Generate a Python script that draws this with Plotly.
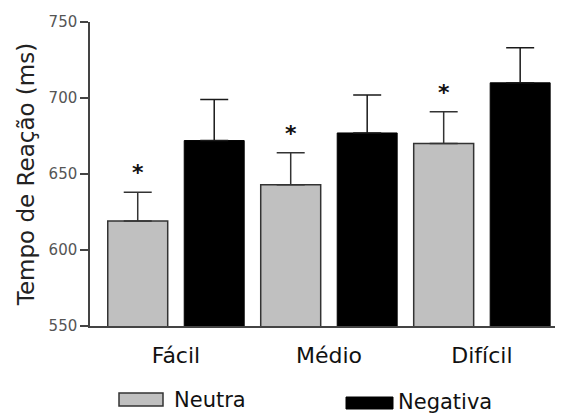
import plotly.graph_objects as go

categories = ["Fácil", "Médio", "Difícil"]
neutra = [619, 643, 670]
neutra_err = [19, 21, 21]
negativa = [672, 677, 710]
negativa_err = [27, 25, 23]
significant = [True, True, True]
y_ticks = [550, 600, 650, 700, 750]

FONT = "DejaVu Sans, Liberation Sans, Arial, sans-serif"

fig = go.Figure()
fig.add_trace(go.Bar(
    x=categories, y=neutra, name="Neutra",
    marker=dict(color="#c0c0c0", line=dict(color="#333333", width=1.5)),
    error_y=dict(type="data", array=neutra_err, arrayminus=[0]*3, symmetric=False,
                 color="#333333", thickness=1.5, width=14),
))
fig.add_trace(go.Bar(
    x=categories, y=negativa, name="Negativa",
    marker=dict(color="#000000", line=dict(color="#000000", width=1)),
    error_y=dict(type="data", array=negativa_err, arrayminus=[0]*3, symmetric=False,
                 color="#1a1a1a", thickness=1.5, width=14),
))

annotations = []
for c, v, e, s in zip(categories, neutra, neutra_err, significant):
    if s:
        annotations.append(dict(x=c, y=v + e, xref="x", yref="y", text="<b>*</b>",
                                showarrow=False, xshift=-38, yshift=5, yanchor="bottom",
                                font=dict(family=FONT, size=22, color="#111111")))

# legend (manual), positions given in screen pixels of the plot area (90..563, 22..326)
H = 304.0
W = 473.0
def px(xp): return (xp - 90) / W
def py(yp): return (326 - yp) / H

shapes = [
    dict(type="rect", xref="paper", yref="paper", x0=px(119), x1=px(163), y0=py(406), y1=py(393),
         fillcolor="#c0c0c0", line=dict(color="#333333", width=1.5)),
    dict(type="rect", xref="paper", yref="paper", x0=px(346), x1=px(393), y0=py(409), y1=py(397),
         fillcolor="#000000", line=dict(color="#000000", width=1)),
]
annotations += [
    dict(x=px(172), y=py(399.5), xref="paper", yref="paper", text="Neutra", showarrow=False,
         xanchor="left", yanchor="middle", font=dict(family=FONT, size=21, color="#111111")),
    dict(x=px(396), y=py(402), xref="paper", yref="paper", text="Negativa", showarrow=False,
         xanchor="left", yanchor="middle", font=dict(family=FONT, size=21, color="#111111")),
]

# page body has an 8px margin: compensate so that the plot area sits at 90..563 x 22..326
fig.update_layout(
    width=555, height=405,
    margin=dict(l=82, r=0, t=14, b=87),
    paper_bgcolor="white", plot_bgcolor="white",
    barmode="group", bargap=0, bargroupgap=0.216,
    showlegend=False,
    shapes=shapes, annotations=annotations,
    font=dict(family=FONT),
)
fig.update_xaxes(
    type="category", range=[-0.562, 2.53],
    showline=True, linecolor="#444444", linewidth=1.5,
    ticks="", showgrid=False, zeroline=False,
    tickfont=dict(family=FONT, size=22, color="#111111"),
    ticklabelstandoff=9,
)
fig.update_yaxes(
    range=[550, 750], tickvals=y_ticks,
    showline=True, linecolor="#444444", linewidth=1.5,
    ticks="outside", ticklen=8, tickwidth=1.5, tickcolor="#444444",
    showgrid=False, zeroline=False,
    tickfont=dict(family=FONT, size=15, color="#555555"),
    title=dict(text="Tempo de Reação (ms)", font=dict(family=FONT, size=23, color="#222222"), standoff=8),
)

fig.write_html("out.html")
